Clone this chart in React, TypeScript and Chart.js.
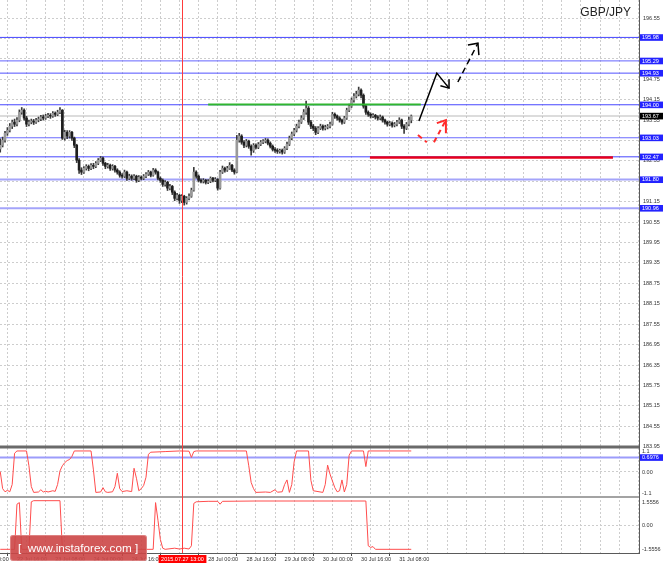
import React, { useEffect, useRef } from 'react';
import { Chart, registerables } from 'chart.js';

Chart.register(...registerables);

const FONT = '"Liberation Sans", "DejaVu Sans", sans-serif';
const FS = 5.5;

// ---------- data ----------
const SYMBOL = 'GBP/JPY';
const FIRST_BAR = -7; // bar index of the first candle (22 Jul 16:00 = bar 0)

const opens = [
  192.70, 192.81, 192.96, 193.16, 193.25, 193.37, 193.49, 193.43, 193.55, 193.78,
  193.84, 193.61, 193.43, 193.49, 193.52, 193.49, 193.55, 193.58, 193.64, 193.61,
  193.67, 193.69, 193.67, 193.75, 193.72, 193.78, 193.84, 193.02, 193.19, 193.08,
  193.19, 193.02, 192.81, 192.37, 192.08, 192.02, 192.13, 192.19, 192.13, 192.22,
  192.19, 192.28, 192.37, 192.43, 192.28, 192.19, 192.22, 192.13, 192.19, 192.08,
  192.02, 191.93, 191.90, 192.02, 191.84, 191.90, 191.84, 191.90, 191.78, 191.87,
  191.84, 191.90, 191.96, 192.02, 191.93, 192.08, 192.02, 191.84, 191.78, 191.66,
  191.72, 191.55, 191.60, 191.43, 191.25, 191.34, 191.19, 191.31, 191.13, 191.25,
  191.31, 191.49, 192.02, 191.90, 191.78, 191.75, 191.78, 191.72, 191.75, 191.84,
  191.78, 191.81, 191.55, 192.02, 192.13, 192.08, 192.13, 192.22, 192.08, 192.02,
  192.96, 193.08, 192.90, 192.81, 192.93, 192.78, 192.66, 192.81, 192.75, 192.84,
  192.90, 192.93, 192.96, 192.87, 192.78, 192.69, 192.66, 192.63, 192.66, 192.61,
  192.72, 192.84, 193.02, 193.14, 193.25, 193.37, 193.49, 193.61, 193.78, 193.90,
  193.49, 193.37, 193.31, 193.19, 193.31, 193.37, 193.31, 193.34, 193.37, 193.43,
  193.72, 193.67, 193.61, 193.55, 193.49, 193.61, 193.84, 193.96, 194.14, 194.25,
  194.31, 194.43, 194.28, 193.96, 193.78, 193.72, 193.67, 193.69, 193.64, 193.61,
  193.64, 193.55, 193.49, 193.43, 193.46, 193.40, 193.43, 193.49, 193.55, 193.37,
  193.31, 193.43, 193.55,
];
const highs = [
  193.00, 193.05, 193.22, 193.33, 193.45, 193.55, 193.58, 193.62, 193.85, 193.92,
  193.88, 193.66, 193.55, 193.58, 193.57, 193.60, 193.64, 193.69, 193.70, 193.72,
  193.75, 193.74, 193.80, 193.79, 193.84, 193.92, 193.86, 193.25, 193.24, 193.24,
  193.22, 193.05, 192.84, 192.42, 192.15, 192.18, 192.24, 192.23, 192.27, 192.28,
  192.33, 192.42, 192.48, 192.46, 192.31, 192.28, 192.26, 192.24, 192.22, 192.12,
  192.06, 191.98, 192.08, 192.05, 191.96, 191.94, 191.95, 191.93, 191.92, 191.91,
  191.95, 192.01, 192.07, 192.05, 192.13, 192.12, 192.05, 191.88, 191.82, 191.77,
  191.75, 191.66, 191.63, 191.47, 191.40, 191.37, 191.36, 191.34, 191.30, 191.38,
  191.55, 192.16, 192.06, 191.94, 191.82, 191.83, 191.81, 191.80, 191.88, 191.87,
  191.86, 191.83, 192.07, 192.20, 192.17, 192.19, 192.30, 192.25, 192.12, 193.10,
  193.16, 193.12, 192.95, 192.98, 192.96, 192.82, 192.86, 192.85, 192.89, 192.95,
  192.98, 193.01, 193.00, 192.91, 192.82, 192.74, 192.71, 192.70, 192.70, 192.77,
  192.90, 193.08, 193.20, 193.31, 193.43, 193.55, 193.68, 193.86, 194.11, 193.95,
  193.54, 193.42, 193.36, 193.36, 193.43, 193.41, 193.40, 193.42, 193.49, 193.78,
  193.76, 193.70, 193.65, 193.58, 193.66, 193.90, 194.02, 194.20, 194.33, 194.40,
  194.52, 194.47, 194.32, 194.00, 193.82, 193.76, 193.74, 193.72, 193.68, 193.70,
  193.67, 193.58, 193.52, 193.51, 193.50, 193.48, 193.54, 193.62, 193.58, 193.42,
  193.48, 193.64, 193.70,
];
const lows = [
  192.61, 192.76, 192.90, 193.10, 193.20, 193.30, 193.36, 193.38, 193.50, 193.72,
  193.55, 193.36, 193.38, 193.44, 193.42, 193.45, 193.50, 193.53, 193.55, 193.57,
  193.62, 193.60, 193.63, 193.66, 193.68, 193.74, 192.98, 192.96, 193.00, 193.02,
  192.95, 192.74, 192.30, 191.98, 191.95, 191.98, 192.08, 192.06, 192.09, 192.12,
  192.15, 192.24, 192.33, 192.22, 192.12, 192.14, 192.07, 192.08, 192.02, 191.96,
  191.87, 191.84, 191.86, 191.78, 191.80, 191.78, 191.80, 191.72, 191.74, 191.79,
  191.80, 191.86, 191.92, 191.88, 191.90, 191.96, 191.79, 191.72, 191.60, 191.61,
  191.48, 191.50, 191.36, 191.18, 191.20, 191.10, 191.12, 191.05, 191.08, 191.20,
  191.28, 191.46, 191.84, 191.73, 191.70, 191.70, 191.67, 191.68, 191.71, 191.73,
  191.74, 191.49, 191.52, 191.98, 192.02, 192.04, 192.10, 192.03, 191.96, 192.00,
  192.90, 192.84, 192.74, 192.76, 192.72, 192.52, 192.60, 192.70, 192.71, 192.80,
  192.86, 192.88, 192.82, 192.73, 192.64, 192.60, 192.57, 192.58, 192.55, 192.57,
  192.68, 192.80, 192.97, 193.09, 193.20, 193.32, 193.45, 193.57, 193.72, 193.42,
  193.30, 193.24, 193.12, 193.15, 193.27, 193.25, 193.26, 193.29, 193.32, 193.40,
  193.60, 193.55, 193.49, 193.43, 193.45, 193.57, 193.80, 193.92, 194.08, 194.20,
  194.26, 194.20, 193.90, 193.72, 193.66, 193.61, 193.62, 193.58, 193.55, 193.56,
  193.49, 193.43, 193.37, 193.38, 193.34, 193.35, 193.38, 193.45, 193.30, 193.16,
  193.27, 193.38, 193.47,
];
const closes = [
  192.81, 192.96, 193.16, 193.25, 193.37, 193.49, 193.43, 193.55, 193.78, 193.84,
  193.61, 193.43, 193.49, 193.52, 193.49, 193.55, 193.58, 193.64, 193.61, 193.67,
  193.69, 193.67, 193.75, 193.72, 193.78, 193.84, 193.02, 193.19, 193.08, 193.19,
  193.02, 192.81, 192.37, 192.08, 192.02, 192.13, 192.19, 192.13, 192.22, 192.19,
  192.28, 192.37, 192.43, 192.28, 192.19, 192.22, 192.13, 192.19, 192.08, 192.02,
  191.93, 191.90, 192.02, 191.84, 191.90, 191.84, 191.90, 191.78, 191.87, 191.84,
  191.90, 191.96, 192.02, 191.93, 192.08, 192.02, 191.84, 191.78, 191.66, 191.72,
  191.55, 191.60, 191.43, 191.25, 191.34, 191.19, 191.31, 191.13, 191.25, 191.31,
  191.49, 192.02, 191.90, 191.78, 191.75, 191.78, 191.72, 191.75, 191.84, 191.78,
  191.81, 191.55, 192.02, 192.13, 192.08, 192.13, 192.22, 192.08, 192.02, 192.96,
  193.08, 192.90, 192.81, 192.93, 192.78, 192.66, 192.81, 192.75, 192.84, 192.90,
  192.93, 192.96, 192.87, 192.78, 192.69, 192.66, 192.63, 192.66, 192.61, 192.72,
  192.84, 193.02, 193.14, 193.25, 193.37, 193.49, 193.61, 193.78, 193.90, 193.49,
  193.37, 193.31, 193.19, 193.31, 193.37, 193.31, 193.34, 193.37, 193.43, 193.72,
  193.67, 193.61, 193.55, 193.49, 193.61, 193.84, 193.96, 194.14, 194.25, 194.31,
  194.43, 194.28, 193.96, 193.78, 193.72, 193.67, 193.69, 193.64, 193.61, 193.64,
  193.55, 193.49, 193.43, 193.46, 193.40, 193.43, 193.49, 193.55, 193.37, 193.31,
  193.43, 193.55, 193.67,
];

// oscillator 1 (upper sub-window), vertices by bar index
const osc1Bars = [-7, -6, -5, -4, -3, -2, -1, 0, 4, 5, 6, 7, 9, 10, 11, 12, 13, 15, 16, 17, 18, 19, 20, 21, 22, 23, 24, 31, 32, 33, 35, 36, 37, 38, 40, 41, 42, 43, 44, 46, 48, 49, 50, 51, 52, 53, 54, 55, 56, 62, 68, 72, 73, 74, 75, 96, 97, 98, 99, 100, 104, 106, 108, 109, 111, 112, 113, 114, 115, 116, 117, 122, 123, 124, 128, 129, 130, 131, 133, 134, 135, 136, 137, 138, 139, 140, 145, 146, 147, 165];
const osc1Values = [0.02, -0.8, -0.95, -0.88, -0.95, -0.6, 0.9, 1.01, 1.01, 0.3, -0.7, -0.98, -0.96, -0.85, -0.96, -0.92, -0.96, -0.9, -0.93, -0.6, 0.05, 0.3, 0.45, 0.55, 0.6, 0.75, 1.01, 1.01, 0.1, -0.98, -0.96, -0.75, -0.95, -0.98, -0.95, -0.7, -0.06, -0.8, -0.94, -0.9, -0.94, 0.18, -0.3, -0.9, -0.8, -0.65, -0.25, 0.85, 0.95, 0.98, 1.01, 1.0, 0.7, 0.98, 1.01, 1.01, 0.3, -0.5, -0.8, -0.98, -0.96, -0.98, -0.85, -0.97, -0.95, -0.6, -0.38, -0.98, -0.6, 0.5, 1.01, 1.01, -0.4, -0.9, -0.98, -0.6, 0.33, -0.1, -0.75, -0.95, -0.9, -0.38, -0.96, -0.6, 0.8, 1.01, 1.01, 0.26, 1.01, 1.01];
const osc1Level = 0.6976;
const osc1Labels = [1.1, 0, -1.1];

// oscillator 2 (lower sub-window)
const osc2Bars = [-7, -1, 0, 1, 2, 5, 6, 7, 18, 19, 57, 58, 59, 60, 61, 62, 66, 68, 70, 72, 73, 74, 75, 80, 84, 85, 86, 100, 146, 147, 148, 149, 150, 165];
const osc2Values = [-1.52, -1.52, 1.3, 1.4, -1.52, -1.52, 1.45, 1.52, 1.52, -1.52, -1.52, 1.4, 0.3, -0.9, -1.45, -1.52, -1.45, -1.5, -1.45, -1.5, -1.3, 1.35, 1.45, 1.48, 1.48, 1.3, 1.48, 1.5, 1.5, -1.3, -1.4, -1.35, -1.52, -1.52];
const osc2Labels = [1.5556, 0, -1.5556];

// horizontal levels and price ticks
const levelPrices = [195.98, 195.29, 194.93, 194.0, 193.03, 192.47, 191.8, 190.96];
const currentPrice = 193.67;
const yTicksMain = [183.95, 184.55, 185.15, 185.75, 186.35, 186.95, 187.55, 188.15, 188.75, 189.35, 189.95, 190.55, 191.15, 191.75, 192.35, 192.95, 193.55, 194.15, 194.75, 195.35, 195.95, 196.55, 197.15];

// time axis labels
const timeLabelBars = [-16, 0, 16, 32, 48, 64, 80, 96, 112, 128, 144, 160];
const timeLabels = ['22 Jul 00:00', '22 Jul 16:00', '23 Jul 08:00', '24 Jul 00:00', '24 Jul 16:00', '27 Jul 08:00', '28 Jul 00:00', '28 Jul 16:00', '29 Jul 08:00', '30 Jul 00:00', '30 Jul 16:00', '31 Jul 08:00'];
const markerBar = 69;
const markerLabel = '2015.07.27 13:00';

// drawn objects (bar index, price)
const greenBars = [80, 169];
const greenPrice = 194.01;
const redBars = [147.7, 249.4];
const redPrice = 192.45;
const blackArrowBars = [168.2, 175.7, 180.8];
const blackArrowPrices = [193.52, 194.93, 194.49];
const blackHeadBars = [177.2, 180.8, 180.8];
const blackHeadPrices = [194.56, 194.49, 194.75];
const dashArrowBars = [184.5, 192.9];
const dashArrowPrices = [194.67, 195.81];
const dashHeadBars = [188.7, 192.9, 193.3];
const dashHeadPrices = [195.76, 195.81, 195.46];
const redArrow1Bars = [167.8, 171.5];
const redArrow1Prices = [193.11, 192.9];
const redArrow2Bars = [174.5, 179.5];
const redArrow2Prices = [192.9, 193.55];
const redHeadBars = [175.7, 179.5, 179.5];
const redHeadPrices = [193.46, 193.55, 193.16];

// ---------- styles ----------
const X_MIN = -7.1;
const X_MAX = 260.3;
const GRID = '#cdcdcd';
const AXIS = '#5a5a5a';
const TEXT = '#333333';
const LEVEL_COLORS = ['#4646ff', '#6565ff', '#5050ff', '#4646ff', '#6b6bff', '#4646ff', '#a4a4fa', '#a4a4fa'];
const LEVEL_WIDTHS = [1, 1, 1, 1, 1, 1, 2, 2];
const BOX_BLUE = '#2323ff';
const OSC_RED = '#ff4d4d';

const pts = (xs: number[], ys: number[]) => xs.map((x, i) => ({ x, y: ys[i] }));

const lineDs = (data: any[], color: string, width: number, axis: string, order: number, dash: number[] = []) => ({
  type: 'line' as const,
  data,
  borderColor: color,
  borderWidth: width,
  borderDash: dash,
  pointRadius: 0,
  tension: 0,
  fill: false,
  yAxisID: axis,
  order,
});

const boxedPrices = [...levelPrices, currentPrice];
const hiddenByBox = (v: number) => boxedPrices.some((p) => Math.abs(p - v) < 0.1);

const overlayPlugin = {
  id: 'overlay',
  afterDraw(chart: any) {
    const ctx = chart.ctx;
    const { x, y, y1, y2 } = chart.scales;
    const area = chart.chartArea;
    const left = area.left;
    const right = area.right;
    ctx.save();
    // panel separators
    ctx.fillStyle = '#6a6a6a';
    ctx.fillRect(left, y.bottom - 1.5, right - left, 3);
    ctx.fillStyle = '#a3a3a3';
    ctx.fillRect(left, y1.bottom - 1, right - left, 2);
    // vertical red marker
    const mx = Math.round(x.getPixelForValue(markerBar)) + 0.5;
    ctx.strokeStyle = '#ff3b3b';
    ctx.lineWidth = 1;
    ctx.beginPath();
    ctx.moveTo(mx, area.top);
    ctx.lineTo(mx, area.bottom);
    ctx.stroke();
    // marker time box
    ctx.font = `${FS}px ${FONT}`;
    const tw = ctx.measureText(markerLabel).width;
    ctx.fillStyle = '#ff0000';
    ctx.fillRect(mx - tw / 2 - 2.5, x.top + 2, tw + 5, 8);
    ctx.fillStyle = '#ffffff';
    ctx.textAlign = 'center';
    ctx.textBaseline = 'middle';
    ctx.fillText(markerLabel, mx, x.top + 6.3);
    // sub-window labels
    ctx.fillStyle = TEXT;
    ctx.textAlign = 'left';
    const subLabel = (scale: any, v: number, text: string, topGap: number) => {
      let py = scale.getPixelForValue(v);
      py = Math.min(Math.max(py, scale.top + topGap), scale.bottom - 4);
      ctx.fillText(text, right + 3, py);
    };
    osc1Labels.forEach((v) => subLabel(y1, v, v === 0 ? '0.00' : String(v), 4));
    osc2Labels.forEach((v) => subLabel(y2, v, v === 0 ? '0.00' : String(v), 5));
    // price boxes
    const box = (scale: any, v: number, text: string, color: string) => {
      const py = scale.getPixelForValue(v);
      ctx.fillStyle = color;
      ctx.fillRect(right + 1, py - 3.2, chart.width - right - 2, 6.6);
      ctx.fillStyle = '#ffffff';
      ctx.textAlign = 'left';
      ctx.fillText(text, right + 3, py + 0.3);
    };
    levelPrices.forEach((p) => box(y, p, p.toFixed(2), BOX_BLUE));
    box(y, currentPrice, currentPrice.toFixed(2), '#000000');
    box(y1, osc1Level, osc1Level.toFixed(4), BOX_BLUE);
    // symbol
    ctx.font = `12px ${FONT}`;
    ctx.fillStyle = '#222222';
    ctx.textAlign = 'right';
    ctx.textBaseline = 'middle';
    ctx.fillText(SYMBOL, 631, 13);
    ctx.restore();
  },
};

export default function App() {
  const ref = useRef<HTMLCanvasElement>(null);

  useEffect(() => {
    const canvas = ref.current;
    if (!canvas) return;
    Chart.defaults.font.family = FONT;

    const barIdx = closes.map((_, i) => FIRST_BAR + i);
    const wickData = barIdx.map((b, i) => ({ x: b, y: [lows[i], highs[i]] }));
    const bodyData = barIdx.map((b, i) => ({ x: b, y: [opens[i], closes[i]] }));
    const bodyColors = barIdx.map((_, i) => (closes[i] >= opens[i] ? '#9a9a9a' : '#1e1e1e'));

    const datasets: any[] = [
      lineDs(pts(blackArrowBars, blackArrowPrices), '#000000', 1.5, 'y', 0),
      lineDs(pts(blackHeadBars, blackHeadPrices), '#000000', 1.5, 'y', 0),
      lineDs(pts(dashArrowBars, dashArrowPrices), '#000000', 1.5, 'y', 0, [6, 4]),
      lineDs(pts(dashHeadBars, dashHeadPrices), '#000000', 1.5, 'y', 0),
      lineDs(pts(redArrow1Bars, redArrow1Prices), '#ff2a2a', 2, 'y', 0, [5, 4]),
      lineDs(pts(redArrow2Bars, redArrow2Prices), '#ff2a2a', 2, 'y', 0, [5, 4]),
      lineDs(pts(redHeadBars, redHeadPrices), '#ff2a2a', 2, 'y', 0),
      lineDs(pts(greenBars, [greenPrice, greenPrice]), '#2fb52f', 2, 'y', 1),
      lineDs(pts(redBars, [redPrice, redPrice]), '#e8001a', 2.5, 'y', 1),
      {
        type: 'bar',
        data: bodyData,
        backgroundColor: bodyColors,
        borderWidth: 0,
        barThickness: 2,
        grouped: false,
        yAxisID: 'y',
        order: 2,
      },
      {
        type: 'bar',
        data: wickData,
        backgroundColor: '#3a3a3a',
        borderWidth: 0,
        barThickness: 1,
        grouped: false,
        yAxisID: 'y',
        order: 3,
      },
      ...levelPrices.map((p, i) => lineDs(pts([X_MIN, X_MAX], [p, p]), LEVEL_COLORS[i], LEVEL_WIDTHS[i], 'y', 4)),
      lineDs(pts([X_MIN, X_MAX], [currentPrice, currentPrice]), '#b9b9b9', 1, 'y', 5),
      lineDs(pts([X_MIN, X_MAX], [osc1Level, osc1Level]), '#9c9cfb', 2, 'y1', 5),
      lineDs(pts(osc1Bars, osc1Values), OSC_RED, 1, 'y1', 2),
      lineDs(pts(osc2Bars, osc2Values), OSC_RED, 1, 'y2', 2),
    ];

    const tickFont = { size: FS, family: FONT };
    const resetPad = (s: any) => {
      s.paddingTop = 0;
      s.paddingBottom = 0;
      s.paddingLeft = 0;
      s.paddingRight = 0;
    };
    const zeroGrid = (c: any) => (c.tick && c.tick.value === 0 ? GRID : 'rgba(0,0,0,0)');

    const chart = new Chart(canvas, {
      type: 'line',
      data: { datasets },
      options: {
        animation: false,
        responsive: false,
        maintainAspectRatio: false,
        events: [],
        layout: { padding: 0 },
        plugins: { legend: { display: false }, tooltip: { enabled: false }, title: { display: false } },
        scales: {
          y: {
            type: 'linear',
            position: 'right',
            stack: 'panes',
            stackWeight: 447,
            min: 183.94,
            max: 197.08,
            bounds: 'data',
            afterBuildTicks: (s: any) => {
              s.ticks = yTicksMain.map((v) => ({ value: v }));
            },
            afterFit: (s: any) => {
              s.width = 25;
              resetPad(s);
            },
            ticks: {
              autoSkip: false,
              font: tickFont,
              color: TEXT,
              padding: 4,
              callback: (v: any) => (hiddenByBox(Number(v)) ? '' : Number(v).toFixed(2)),
            },
            grid: { color: GRID, lineWidth: 1, drawTicks: false },
            border: { display: true, color: AXIS, width: 1, dash: [2, 2] },
          },
          y1: {
            type: 'linear',
            position: 'right',
            stack: 'panes',
            stackWeight: 50,
            min: -1.2,
            max: 1.2,
            bounds: 'data',
            afterBuildTicks: (s: any) => {
              s.ticks = [{ value: 0 }];
            },
            afterFit: (s: any) => {
              s.width = 25;
              resetPad(s);
            },
            ticks: { display: false },
            grid: { color: zeroGrid, lineWidth: 1, drawTicks: false },
            border: { display: true, color: AXIS, width: 1, dash: [2, 2] },
          },
          y2: {
            type: 'linear',
            position: 'right',
            stack: 'panes',
            stackWeight: 56,
            min: -1.75,
            max: 1.75,
            bounds: 'data',
            afterBuildTicks: (s: any) => {
              s.ticks = [{ value: 0 }];
            },
            afterFit: (s: any) => {
              s.width = 25;
              resetPad(s);
            },
            ticks: { display: false },
            grid: { color: zeroGrid, lineWidth: 1, drawTicks: false },
            border: { display: true, color: AXIS, width: 1, dash: [2, 2] },
          },
          x: {
            type: 'linear',
            position: 'bottom',
            min: X_MIN,
            max: X_MAX,
            offset: false,
            bounds: 'data',
            afterBuildTicks: (s: any) => {
              const t: any[] = [];
              for (let b = -16; b <= 256; b += 8) t.push({ value: b });
              s.ticks = t;
            },
            afterFit: (s: any) => {
              s.height = 13;
              resetPad(s);
            },
            ticks: {
              autoSkip: false,
              maxRotation: 0,
              minRotation: 0,
              align: 'start',
              padding: 0,
              font: tickFont,
              color: TEXT,
              callback: (v: any) => {
                const k = timeLabelBars.indexOf(Number(v));
                return k >= 0 ? timeLabels[k] : '';
              },
            },
            grid: {
              color: GRID,
              lineWidth: 1,
              drawTicks: true,
              tickLength: 3,
              tickWidth: 1,
              tickBorderDash: [],
              tickColor: (c: any) =>
                c.tick && timeLabelBars.indexOf(c.tick.value) >= 0 ? '#444444' : 'rgba(0,0,0,0)',
            },
            border: { display: true, color: AXIS, width: 1, dash: [2, 2] },
          },
        },
      } as any,
      plugins: [overlayPlugin],
    });
    return () => chart.destroy();
  }, []);

  return (
    <div style={{ position: 'absolute', left: 0, top: 0, width: 664, height: 566, background: '#ffffff', overflow: 'hidden' }}>
      <canvas ref={ref} width={664} height={566} style={{ display: 'block', width: 664, height: 566 }} />
      <div
        style={{
          position: 'absolute',
          left: 10,
          top: 535,
          width: 137,
          height: 26,
          boxSizing: 'border-box',
          paddingLeft: 8,
          background: 'rgba(204,70,70,0.9)',
          borderRadius: 3,
          boxShadow: 'inset 0 0 0 1px rgba(255,255,255,0.25)',
          color: '#ffffff',
          font: `11.7px ${FONT}`,
          lineHeight: '26px',
          whiteSpace: 'pre',
        }}
      >
        {'[  www.instaforex.com ]'}
      </div>
    </div>
  );
}
